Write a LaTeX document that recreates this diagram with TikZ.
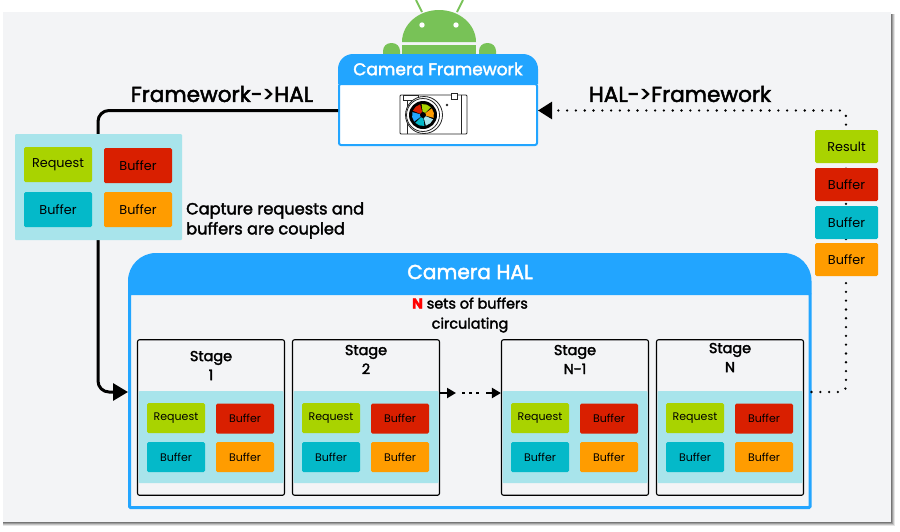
\documentclass[tikz,border=0pt]{standalone}
\usepackage{fontspec}
\setmainfont{Poppins}
\newfontfamily\medfont[FakeBold=2.2]{Poppins}
\usetikzlibrary{arrows.meta}
\definecolor{panelgray}{HTML}{F3F4F6}
\definecolor{halblue}{HTML}{22A5FF}
\definecolor{paleteal}{HTML}{A8E4EB}
\definecolor{reqgreen}{HTML}{A9D300}
\definecolor{bufred}{HTML}{D91F00}
\definecolor{bufteal}{HTML}{04B9C9}
\definecolor{bufamber}{HTML}{FF9C00}
\definecolor{droidgreen}{HTML}{78C257}
\tikzset{
  cell/.style={rounded corners=1.5pt, inner sep=0pt, text=black, font=\fontsize{12.8}{14}\selectfont},
  smallcell/.style={cell, minimum width=58pt, minimum height=30pt, font=\fontsize{11}{13}\selectfont},
  bigcell/.style={cell, minimum width=68pt, minimum height=35pt},
  sidecell/.style={cell, minimum width=63pt, minimum height=33pt},
  tray/.style={fill=paleteal, rounded corners=1pt, inner sep=0pt},
  stagebox/.style={draw=black, line width=1.1pt, rounded corners=2pt, inner sep=0pt, minimum width=147pt, minimum height=155.5pt},
  headtext/.style={text=white, inner sep=0pt, font=\medfont\fontsize{17}{20}\selectfont},
  flowlabel/.style={inner sep=0pt, font=\medfont\fontsize{21.6}{24}\selectfont},
  note/.style={inner sep=0pt, align=left, font=\medfont\fontsize{16.2}{20}\selectfont},
  stagetitle/.style={inner sep=0pt, align=center, font=\medfont\fontsize{14.4}{19}\selectfont},
  solidflow/.style={line width=3pt, rounded corners=11pt, -{Triangle[length=15pt,width=17pt]}},
  dotflow/.style={line width=2.6pt, line cap=round, dash pattern=on 0pt off 8.8pt, rounded corners=6pt, -{Triangle[length=14pt,width=17pt]}},
}
\begin{document}
\begin{tikzpicture}[x=1pt,y=-1pt]
  \useasboundingbox (0,0) rectangle (900,531);
  % panel with soft shadow
  \foreach \s/\o in {4/0.10,3/0.15,2/0.2,1/0.25}
    \fill[black, opacity=\o] (3,14) rectangle (891+\s,522+\s);
  \fill[panelgray] (3,12) rectangle (891,522);
  % android
  \draw[droidgreen, line width=2pt] (422,12) -- (416,0);
  \draw[droidgreen, line width=2pt] (457,12) -- (463,0);
  \fill[droidgreen] (402,42) arc[start angle=180, end angle=0, x radius=37pt, y radius=32pt] -- cycle;
  \fill[droidgreen] (402,45) rectangle (476,60);
  \fill[droidgreen, rounded corners=8pt] (383,43) rectangle (400,70);
  \fill[droidgreen, rounded corners=8pt] (479,43) rectangle (496,70);
  \fill[white] (422,25) circle (2.7);
  \fill[white] (456,25) circle (2.7);
  % camera framework
  \node[draw=halblue, fill=white, line width=2pt, rounded corners=2pt, inner sep=0pt, minimum width=198pt, minimum height=61pt] (fwBody) at (438,114.5) {};
  \fill[halblue] (338,84) [rounded corners=15pt] -- (338,54) -- (538,54) [sharp corners] -- (538,84) -- cycle;
  \node[headtext] (fwTitle) at (438,69) {Camera Framework};
  % camera icon
  \draw[black!85, line width=0.9pt, rounded corners=1pt] (400,95) rectangle (467,134);
  \draw[black!85, line width=0.9pt] (407,95) -- (407,134);
  \draw[black!85, line width=0.9pt] (461,95) -- (461,134);
  \draw[black!85, fill=white, line width=0.8pt] (403,95) rectangle (418,100);
  \draw[black!85, fill=white, line width=0.8pt] (451,93) rectangle (457,99);
  \fill[black!85] (447,105) circle (1.3);
  \draw[black!85, fill=white, line width=0.8pt] (424,115) circle (18.5);
  \draw[black!85, fill=white, line width=0.8pt] (423,115) circle (16.5);
  \fill[black] (423,115) circle (14);
  \begin{scope}[shift={(423,115)},y=1pt]
    \foreach \a/\c in {105/bufred,45/reqgreen,-15/bufamber,-75/paleteal,-135/bufteal,165/halblue}
      \fill[\c] (0,0) -- (\a:11) arc[start angle=\a, end angle=\a+52, radius=11] -- cycle;
    \fill[black] (0,0) circle (3);
  \end{scope}
  % camera hal
  \node[draw=halblue, line width=3pt, rounded corners=1pt, inner sep=0pt, minimum width=680.5pt, minimum height=214pt] (halBody) at (469.75,400.5) {};
  \fill[halblue] (128,294) [rounded corners=28pt] -- (128,253) -- (811.5,253) [sharp corners] -- (811.5,294) -- cycle;
  \node[headtext, font=\medfont\fontsize{20.2}{24}\selectfont] (halTitle) at (470,272) {Camera HAL};
  \node[inner sep=0pt, align=center, font=\medfont\fontsize{14.4}{20}\selectfont] (halNote) at (470,315)
    {{\bfseries\color{red}N} sets of buffers\\circulating};
  % framework to hal
  \coordinate (turnA) at (98,250);
  \draw[solidflow] ([yshift=4pt]fwBody.west) -| (turnA) |- ([yshift=8.5pt]halBody.west);
  \node[flowlabel] (toHal) at (222,94) {Framework->HAL};
  % hal to framework
  \coordinate (turnB) at (846,250);
  \draw[dotflow] ([yshift=8.5pt]halBody.east) -| (turnB) |- ([yshift=4pt]fwBody.east);
  \node[flowlabel] (toFw) at (680,94) {HAL->Framework};
  % coupled requests and buffers
  \node[tray, minimum width=167pt, minimum height=106pt] (coupled) at (98.5,187) {};
  \node[bigcell, fill=reqgreen] (coupledReq) at (58,164.5) {Request};
  \node[bigcell, fill=bufred] (coupledRed) at (138,165.5) {Buffer};
  \node[bigcell, fill=bufteal] (coupledTeal) at (58,209.5) {Buffer};
  \node[bigcell, fill=bufamber] (coupledAmber) at (138,209.5) {Buffer};
  \node[note, anchor=west] (coupledNote) at (186,220.5) {Capture requests and\\buffers are coupled};
  % result stack
  \node[sidecell, fill=reqgreen] (sideRes) at (846.5,146.5) {Result};
  \node[sidecell, fill=bufred] (sideRed) at (846.5,184.5) {Buffer};
  \node[sidecell, fill=bufteal] (sideTeal) at (846.5,222.5) {Buffer};
  \node[sidecell, fill=bufamber] (sideAmber) at (846.5,259.5) {Buffer};
  % stages
  \foreach \n/\x/\t/\l in {A/137/365.5/1, B/292/359.5/2, C/501/359.5/N-1, D/656/357.5/N} {
    \node[stagebox] (stage\n) at (\x+74,417.5) {};
    \node[stagetitle] (title\n) at (\x+74,\t) {Stage\\\l};
    \node[tray, minimum width=145pt, minimum height=92pt] (tray\n) at (\x+74,437) {};
    \node[smallcell, fill=reqgreen] (req\n) at (\x+39,418) {Request};
    \node[smallcell, fill=bufred] (red\n) at (\x+108,418.5) {Buffer};
    \node[smallcell, fill=bufteal] (teal\n) at (\x+39,457) {Buffer};
    \node[smallcell, fill=bufamber] (amber\n) at (\x+108,457) {Buffer};
  }
  % between stage 2 and N-1
  \coordinate (gapA) at (456,393);
  \coordinate (gapB) at (486,393);
  \draw[line width=2pt, -{Triangle[length=9pt,width=10pt]}] (stageB.east |- gapA) -- (gapA);
  \draw[line width=2pt, dash pattern=on 2.5pt off 4.5pt] (462,393) -- (479,393);
  \draw[line width=2pt, -{Triangle[length=9pt,width=10pt]}] (gapB) -- (stageC.west |- gapB);
\end{tikzpicture}
\end{document}
